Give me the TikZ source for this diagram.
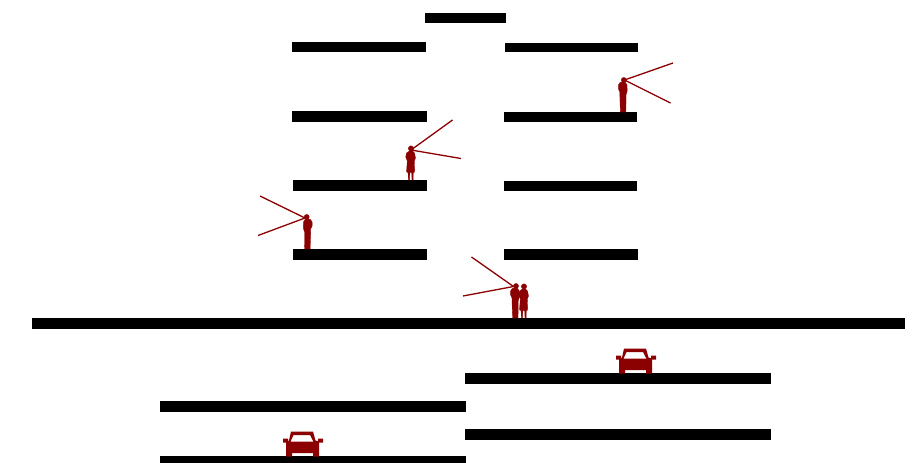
\documentclass[tikz,border=0pt]{standalone}
\definecolor{figred}{RGB}{139,0,0}
\tikzset{
  x=1pt,y=-1pt,
  slab/.style={fill=black,draw=none},
  figure/.style={fill=figred,draw=figred,line width=0.3pt,line join=round},
  sight/.style={draw=figred,line width=1.3pt},
  carbody/.pic={
    \fill[fill=figred] (-19.5,-18) rectangle (-14.5,-14) (15.5,-18) rectangle (20.5,-14);
    \fill[fill=figred,even odd rule] (-11.5,-25) -- (10.5,-25) -- (13,-16) -- (16.5,-15) -- (16.5,0) -- (10.5,0) -- (10.5,-3.5) -- (-10.5,-3.5) -- (-10.5,0) -- (-16.5,0) -- (-16.5,-15) -- (-13.5,-16) -- cycle
      (-9,-21.5) -- (7.5,-21.5) -- (11,-14.8) -- (-12,-14.8) -- cycle;
  },
  manbody/.pic={
    \filldraw[figure] (0.8,-32) circle (2.6);
    \filldraw[figure] (-0.5,-30) -- (2.5,-29.5) -- (4,-27) -- (4.2,-21) -- (3,-17) -- (3,-8) -- (2.8,0) -- (-2.6,0) -- (-3,-10) -- (-3.2,-20) -- (-4.6,-23) -- (-4.6,-27) -- (-3,-29.5) -- cycle;
  },
  womanbody/.pic={
    \filldraw[figure] (0.5,-31.5) circle (2.7);
    \filldraw[figure] (-1,-29) -- (2,-29) -- (4,-27) -- (5,-22) -- (3.8,-19) -- (4.2,-8) -- (2.8,-7.5) -- (2.6,0) -- (1.5,0) -- (1.2,-7.5) -- (-0.6,-7.5) -- (-1,0) -- (-2.2,0) -- (-2.4,-7.5) -- (-4,-8) -- (-3.2,-19) -- (-4.8,-23) -- (-4,-27) -- cycle;
  }
}
\begin{document}
\begin{tikzpicture}
\useasboundingbox (0,0) rectangle (916,463);
% storey slabs
\fill[slab] (425,13) rectangle (506,23);
\fill[slab] (292,42) rectangle (426,52);
\fill[slab] (505,43) rectangle (638,52);
\fill[slab] (292,111) rectangle (427,122);
\fill[slab] (504,112) rectangle (637,122);
\fill[slab] (293,180) rectangle (427,191);
\fill[slab] (504,181) rectangle (637,191);
\fill[slab] (293,249) rectangle (427,260);
\fill[slab] (504,249) rectangle (638,260);
\fill[slab] (32,318) rectangle (905,329);
% parking decks
\fill[slab] (465,373) rectangle (771,384);
\fill[slab] (465,429) rectangle (771,440);
\fill[slab] (160,401) rectangle (466,412);
\fill[slab] (160,456) rectangle (466,463);
% people
\pic at (623,112) {manbody};
\pic at (410.5,180) {womanbody};
\pic[xscale=-1] at (307.5,249) {manbody};
\pic at (515.2,318) {manbody};
\pic at (523.5,318) {womanbody};
% sight lines
\coordinate (eyeA) at (624.5,80);
\coordinate (eyeB) at (411,150);
\coordinate (eyeC) at (305,218);
\coordinate (eyeD) at (513.5,286.5);
\coordinate (a1) at (673,63);
\coordinate (a2) at (670.5,103);
\coordinate (b1) at (452.5,120);
\coordinate (b2) at (461,158.5);
\coordinate (c1) at (260,196);
\coordinate (c2) at (258,235.5);
\coordinate (d1) at (471.5,257);
\coordinate (d2) at (463,296);
\draw[sight] (a1) -- (eyeA) -- (a2);
\draw[sight] (b1) -- (eyeB) -- (b2);
\draw[sight] (c1) -- (eyeC) -- (c2);
\draw[sight] (d1) -- (eyeD) -- (d2);
% cars
\pic at (635.5,373.5) {carbody};
\pic at (302.5,456.5) {carbody};
\end{tikzpicture}
\end{document}
